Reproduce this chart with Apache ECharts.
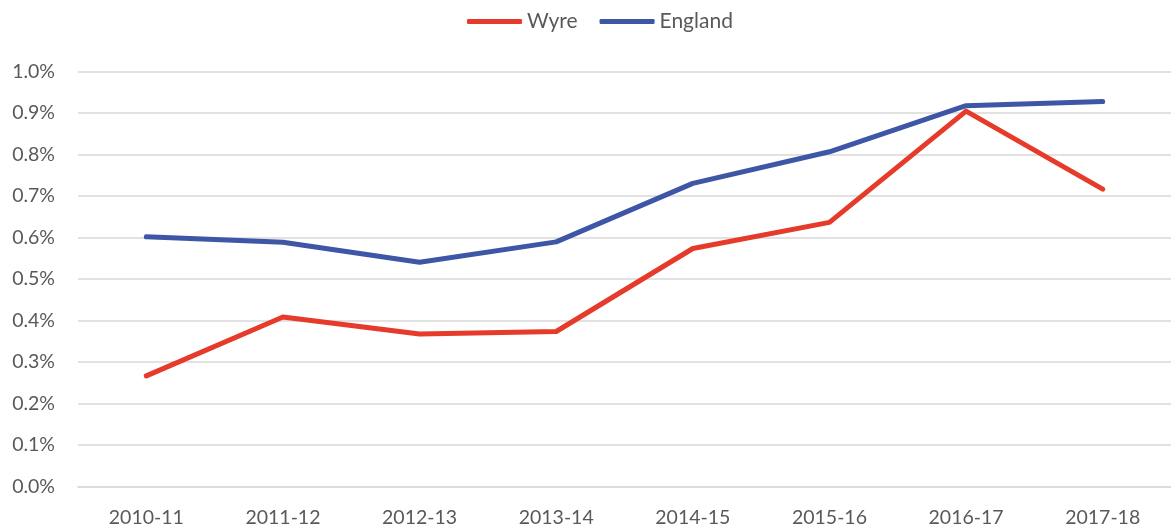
<!DOCTYPE html>
<html><head><meta charset="utf-8">
<script src="https://cdn.jsdelivr.net/npm/echarts@6/dist/echarts.min.js"></script>
<style>html,body{margin:0;padding:0;background:#fff}#c{width:1171px;height:532px}</style>
</head><body><div id="c"></div>
<script>
const categories = ['2010-11','2011-12','2012-13','2013-14','2014-15','2015-16','2016-17','2017-18'];
const wyre = [0.267, 0.409, 0.368, 0.374, 0.574, 0.637, 0.905, 0.717];
const england = [0.602, 0.589, 0.541, 0.590, 0.731, 0.807, 0.918, 0.928];
const yTicks = [0, 0.1, 0.2, 0.3, 0.4, 0.5, 0.6, 0.7, 0.8, 0.9, 1.0];

const chart = echarts.init(document.getElementById('c'), null, {renderer:'canvas'});
const font = 'Lato, "Open Sans", sans-serif';
chart.setOption({
  animation:false,
  legend:{
    top:6, left:462,
    icon:'roundRect', itemWidth:55, itemHeight:5, itemGap:22,
    textStyle:{fontFamily:font, fontSize:21, color:'#595959'},
    data:['Wyre','England']
  },
  grid:{left:78, right:-6, top:71.7, bottom:45.3, containLabel:false},
  xAxis:{
    type:'category', data:categories, boundaryGap:true,
    axisLine:{show:true, lineStyle:{color:'#D9D9D9', width:1.5}},
    axisTick:{show:false},
    axisLabel:{fontFamily:font, fontSize:19.5, color:'#595959', margin:21}
  },
  yAxis:{
    type:'value', min:0, max:1.0, interval:0.1,
    axisLine:{show:false}, axisTick:{show:false},
    splitLine:{lineStyle:{color:'#D9D9D9', width:1.5}},
    axisLabel:{fontFamily:font, fontSize:19.5, color:'#595959', margin:23,
      formatter:v=>{const t=yTicks.find(x=>Math.abs(x-v)<1e-9); return (t!==undefined?t:v).toFixed(1)+'%';}}
  },
  series:[
    {name:'Wyre', type:'line', data:wyre, symbol:'none', lineStyle:{color:'#E63B2A', width:5, cap:'round', join:'round'}, itemStyle:{color:'#E63B2A'}},
    {name:'England', type:'line', data:england, symbol:'none', lineStyle:{color:'#3E56A6', width:5, cap:'round', join:'round'}, itemStyle:{color:'#3E56A6'}}
  ]
});
</script></body></html>
